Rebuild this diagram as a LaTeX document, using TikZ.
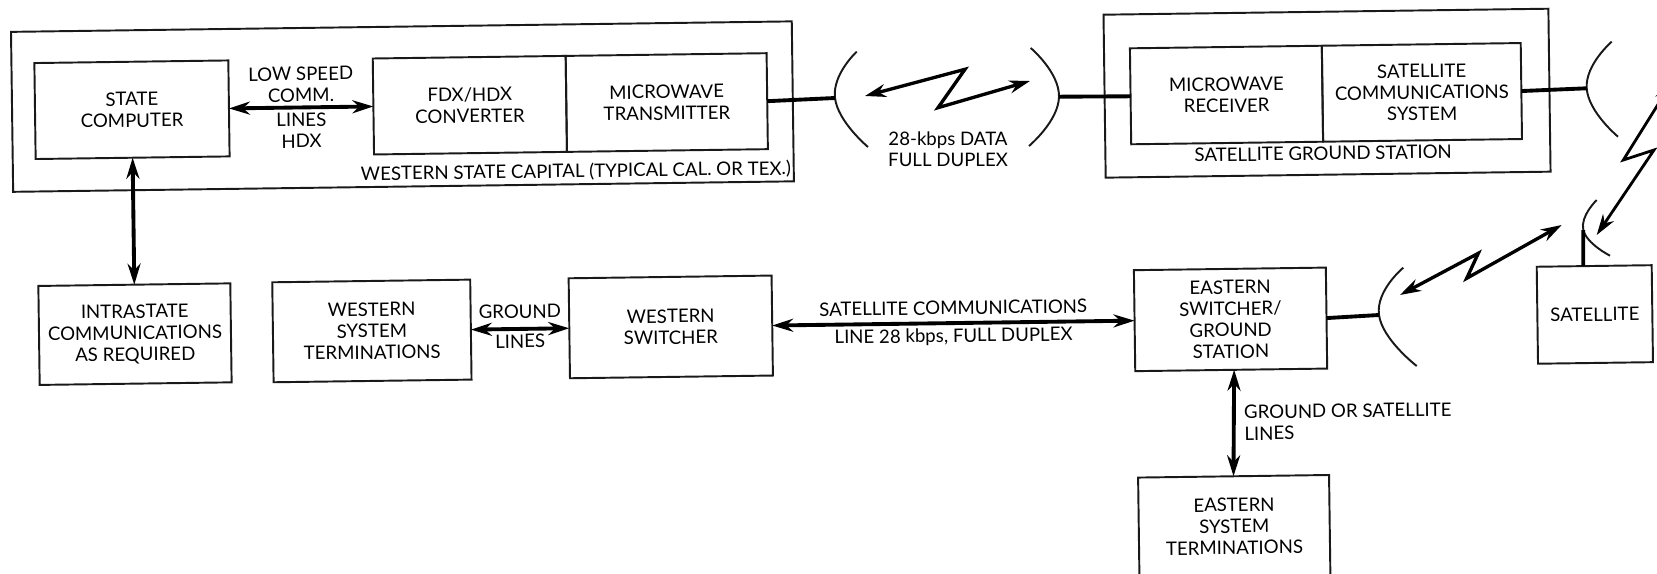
\documentclass[tikz,border=0pt]{standalone}
\usepackage{fontspec}
\setmainfont{Lato}
\usetikzlibrary{arrows.meta,positioning,calc}

\begin{document}
\begin{tikzpicture}[
    x=0.02cm,y=-0.02cm,
    node distance=2cm and 2cm,
    box/.style={rectangle,draw=black!90,line width=1.1pt,outer sep=0pt,minimum width=3.9cm,minimum height=1.95cm,font=\fontsize{10.6}{12.2}\selectfont,align=center,inner sep=0pt},
    frame/.style={rectangle,draw=black!90,line width=1.1pt},
    arrow/.style={{Stealth[length=0.42cm,width=0.26cm]}-{Stealth[length=0.42cm,width=0.26cm]},line width=2.2pt,black},
    link/.style={line width=2.2pt,black},
    dish/.style={line width=1.1pt,black!90},
    lbl/.style={font=\fontsize{10.6}{12.2}\selectfont,align=center,black,inner sep=2pt},
]
\clip (0,0) rectangle (1657,574);
\begin{scope}[rotate=0.77,transform shape]
% frames first
\node[frame,minimum width=15.62cm,minimum height=3.2cm] (capital) at (401,112) {};
\node[frame,minimum width=8.9cm,minimum height=3.26cm] (ground) at (1325.7,111) {};

% upper row
\node[box,minimum width=3.88cm,minimum height=1.92cm] (state) at (130.5,111.5) {STATE\\COMPUTER};
\node[box,minimum width=3.86cm,minimum height=1.92cm,right=2.89cm of state] (fdx) {FDX/HDX\\CONVERTER};
\node[box,minimum width=4.02cm,minimum height=1.92cm,right=0cm of fdx] (mwtx) {MICROWAVE\\TRANSMITTER};
\node[box,minimum width=3.84cm,minimum height=1.92cm,right=7.27cm of mwtx] (mwrx) {MICROWAVE\\RECEIVER};
\node[box,minimum width=3.98cm,minimum height=1.92cm,right=0cm of mwrx] (satcom) {SATELLITE\\COMMUNICATIONS\\SYSTEM};

% lower row
\node[box,minimum width=3.84cm,minimum height=1.98cm,below=2.54cm of state] (intra) {INTRASTATE\\COMMUNICATIONS\\AS REQUIRED};
\node[box,minimum width=3.96cm,minimum height=2cm,right=0.84cm of intra] (wsys) {WESTERN\\SYSTEM\\TERMINATIONS};
\node[box,minimum width=4.06cm,minimum height=2cm,right=1.97cm of wsys] (wswitch) {WESTERN\\SWITCHER};
\node[box,minimum width=3.84cm,minimum height=2.02cm,right=7.25cm of wswitch] (eswitch) {EASTERN\\SWITCHER/\\GROUND\\STATION};
\node[box,minimum width=2.3cm,minimum height=1.94cm,right=4.22cm of eswitch] (sat) {SATELLITE};
\node[box,minimum width=3.82cm,minimum height=2cm,below=2.13cm of eswitch,xshift=0.02cm] (esys) {EASTERN\\SYSTEM\\TERMINATIONS};

% captions
\node[lbl,above left=0.02cm and 0cm of capital.south east] (capcap) {WESTERN STATE CAPITAL (TYPICAL CAL. OR TEX.)};
\node[lbl,below=0.02cm of satcom.south west] (gndcap) {SATELLITE GROUND STATION};

\draw[arrow] (state.east) -- (fdx.west) node[midway,above,lbl] (lowspeed) {LOW SPEED\\COMM.} node[midway,below,lbl] (lineshdx) {LINES\\HDX};
\draw[arrow] (state.south) -- (intra.north);
\draw[arrow] (wsys.east) -- (wswitch.west) node[midway,above,lbl,yshift=0.1cm] (gnd) {GROUND} node[midway,below,lbl] (lin) {LINES};
\draw[arrow] (wswitch.east) -- (eswitch.west) node[midway,above,lbl,yshift=0.06cm] (satlabel) {SATELLITE COMMUNICATIONS} node[midway,below,lbl] (linelabel) {LINE 28 kbps, FULL DUPLEX};
\draw[arrow] (eswitch.south) ++(0.06cm,0) coordinate (estop) -- (esys.north) node[midway,right=0.1cm,lbl,align=left] (orsat) {GROUND OR SATELLITE\\LINES};
\end{scope}

% dishes, in page coordinates
\coordinate (apexa) at (835,98);
\coordinate (apexb) at (1059,96.7);
\coordinate (apexc) at (1586.7,88.3);
\coordinate (apexd) at (1583.3,230);
\coordinate (apexe) at (1379,315);
\draw[dish] plot[smooth,tension=0.9] coordinates {(856.7,51.7) (apexa) (868,147)};
\draw[dish] plot[smooth,tension=0.9] coordinates {(1030.7,48) (apexb) (1029,146)};
\draw[dish] plot[smooth,tension=0.9] coordinates {(1611.7,41.7) (apexc) (1618,136.7)};
\draw[dish] plot[smooth,tension=0.9] coordinates {(1596.7,200) (apexd) (1610,255.7)};
\draw[dish] plot[smooth,tension=0.9] coordinates {(1403.3,267.7) (apexe) (1416.7,366)};

\draw[link] (mwtx.east) -- (apexa);
\draw[link] (apexb) -- (mwrx.west);
\draw[link] (satcom.east) -- (apexc);
\draw[link] (eswitch.east) -- (apexe);
\draw[link] (apexd) -- ($(sat.north)+(-11,0)$);

% radio paths
\coordinate (ra) at (865,96);
\coordinate (rb) at (965,69.3);
\coordinate (rc) at (938,107.7);
\coordinate (rd) at (1030,81);
\draw[arrow,line width=1.9pt] (ra) -- (rb) -- (rc) -- (rd);
\coordinate (sa) at (1672,82);
\coordinate (sb) at (1623.3,160);
\coordinate (sc) at (1654,150);
\coordinate (sd) at (1596.7,235);
\draw[arrow,line width=1.6pt] (sa) -- (sb) -- (sc) -- (sd);
\coordinate (ta) at (1561.7,225);
\coordinate (tb) at (1466.7,278.3);
\coordinate (tc) at (1478.3,253.3);
\coordinate (td) at (1400,295);
\draw[arrow,line width=1.9pt] (ta) -- (tb) -- (tc) -- (td);

\node[lbl] (rate) at (948,149) {28-kbps DATA\\FULL DUPLEX};
\end{tikzpicture}
\end{document}
